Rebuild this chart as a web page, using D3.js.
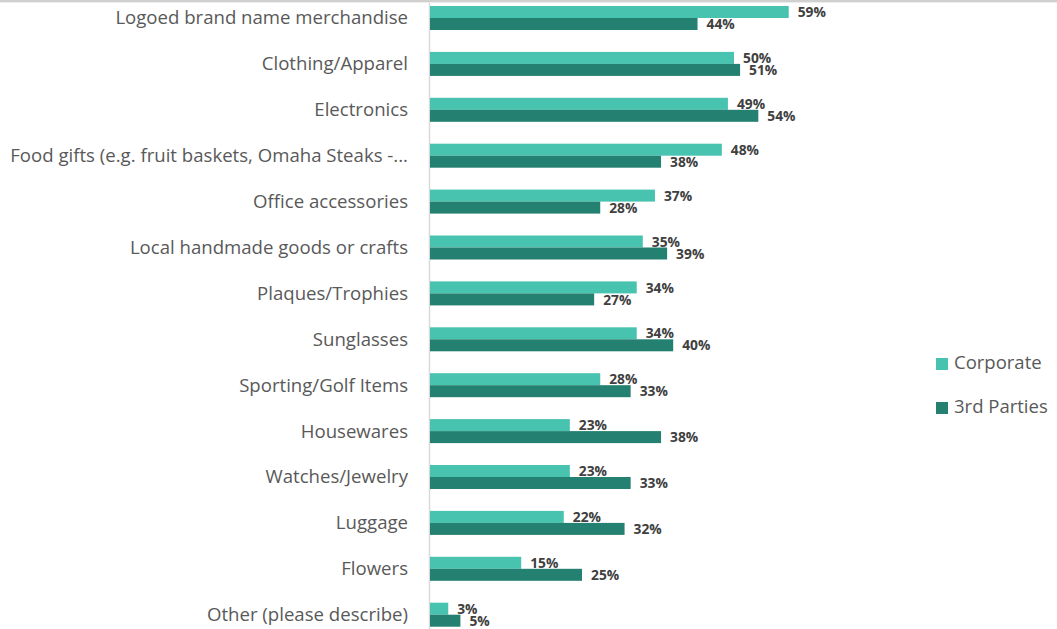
<!DOCTYPE html>
<html><head><meta charset="utf-8">
<script src="https://cdn.jsdelivr.net/npm/d3@7"></script>
<style>body{margin:0;background:#fff;}svg{display:block;}</style>
</head><body>
<svg id="c" width="1057" height="629"></svg>
<script>
const categories = ["Logoed brand name merchandise","Clothing/Apparel","Electronics","Food gifts (e.g. fruit baskets, Omaha Steaks -...","Office accessories","Local handmade goods or crafts","Plaques/Trophies","Sunglasses","Sporting/Golf Items","Housewares","Watches/Jewelry","Luggage","Flowers","Other (please describe)"];
const corporate = [59,50,49,48,37,35,34,34,28,23,23,22,15,3];
const thirdParties = [44,51,54,38,28,39,27,40,33,38,33,32,25,5];
const seriesNames = ["Corporate","3rd Parties"];
const colors = ["#48c3b0","#248070"];

const svg = d3.select("#c");
const font = "'Open Sans', sans-serif";
const x = d3.scaleLinear().domain([0,100]).range([429,1037]);
const y = d3.scaleBand().domain(categories).range([-4.95,637.65]);
const barH = 12;

// top shadow line
svg.append("rect").attr("x",0).attr("y",0).attr("width",1057).attr("height",2).attr("fill","#d0d0d0");
svg.append("rect").attr("x",0).attr("y",2).attr("width",1057).attr("height",1).attr("fill","#ececec");

// axis line
svg.append("line").attr("x1",429.5).attr("x2",429.5).attr("y1",3).attr("y2",629)
  .attr("stroke","#d9d9d9").attr("stroke-width",1.5);

const series = [corporate, thirdParties];
series.forEach((vals, s) => {
  const g = svg.append("g");
  g.selectAll("rect").data(categories).join("rect")
    .attr("x", x(0)+1)
    .attr("y", d => y(d) + y.bandwidth()/2 - barH + s*barH)
    .attr("width", (d,i) => x(vals[i]) - x(0))
    .attr("height", barH)
    .attr("fill", colors[s]);
  g.selectAll("text").data(categories).join("text")
    .attr("x", (d,i) => x(vals[i]) + 10)
    .attr("y", d => y(d) + y.bandwidth()/2 - barH/2 + s*barH + 1.5)
    .attr("dominant-baseline","middle")
    .attr("font-family",font).attr("font-size",13.8).attr("font-weight","bold")
    .attr("fill","#404040")
    .text((d,i) => vals[i] + "%");
});

// category labels
svg.append("g").selectAll("text").data(categories).join("text")
  .attr("x",408).attr("y", d => y(d)+y.bandwidth()/2 + 1.5)
  .attr("text-anchor","end").attr("dominant-baseline","middle")
  .attr("font-family",font).attr("font-size",18.6).attr("fill","#595959")
  .text(d => d);

// legend
const lg = svg.append("g");
seriesNames.forEach((n,i) => {
  const cy = 364 + i*44;
  lg.append("rect").attr("x",936).attr("y",cy-6).attr("width",12).attr("height",12).attr("fill",colors[i]);
  lg.append("text").attr("x",954).attr("y",cy).attr("dominant-baseline","middle")
    .attr("font-family",font).attr("font-size",18.5).attr("fill","#595959").text(n);
});
</script>
</body></html>
